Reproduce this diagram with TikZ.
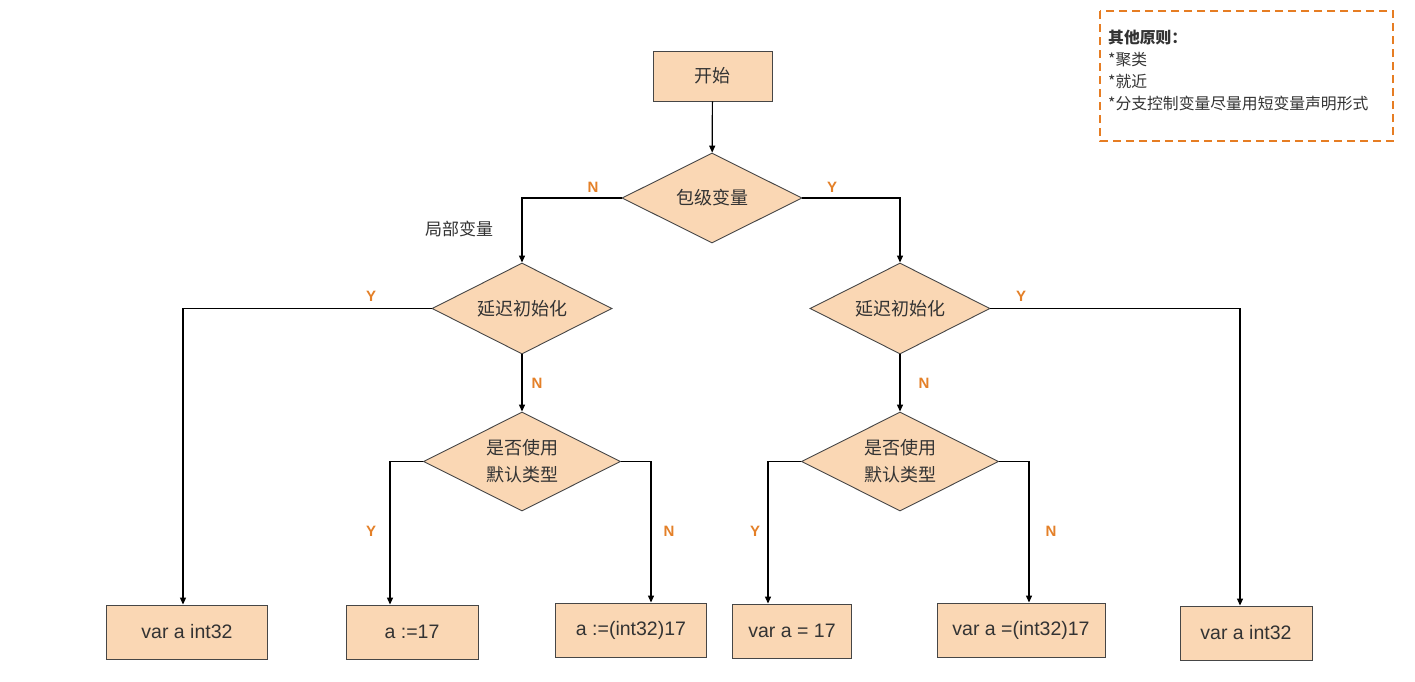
\documentclass[tikz,border=0pt]{standalone}
\usepackage{fontspec}
\setmainfont{Liberation Sans}
\newfontfamily\cjk{Noto Sans CJK SC}
\usetikzlibrary{shapes.geometric,arrows.meta}
\definecolor{peach}{RGB}{250,215,180}
\definecolor{lbl}{RGB}{228,128,40}
\definecolor{txt}{RGB}{51,51,51}
\definecolor{edge}{RGB}{70,70,70}
\definecolor{notec}{RGB}{230,125,35}
\begin{document}
\begin{tikzpicture}[x=1pt,y=-1pt,
  boxn/.style={draw=edge,line width=0.9pt,fill=peach,minimum height=54pt,inner sep=0pt,text=txt,font=\fontsize{19.5}{22}\selectfont},
  dia/.style={diamond,aspect=2,draw=edge,line width=0.9pt,fill=peach,inner sep=0pt,text=txt,align=center,font=\fontsize{18}{27}\selectfont\cjk},
  conn/.style={draw=black,line width=1.2pt,-{Triangle[length=7pt,width=6pt]}},
  yn/.style={text=lbl,font=\fontsize{15}{18}\selectfont\bfseries},
]
\useasboundingbox[fill=white] (0,0) rectangle (1415,681);

% start
\node[boxn,minimum width=119pt,minimum height=50pt,font=\fontsize{18}{20}\selectfont\cjk] (start) at (712.5,76) {开始};

% diamonds
\node[dia,minimum width=180pt,minimum height=90pt] (d0) at (712,198) {包级变量};
\node[dia,minimum width=180pt,minimum height=91pt] (d1) at (522,308.5) {延迟初始化};
\node[dia,minimum width=180pt,minimum height=91pt] (d2) at (900,308.5) {延迟初始化};
\node[dia,minimum width=197pt,minimum height=99pt] (d3) at (522,461.5) {是否使用\\默认类型};
\node[dia,minimum width=197pt,minimum height=99pt] (d4) at (900,461.5) {是否使用\\默认类型};

% bottom boxes
\node[boxn,minimum width=161pt] (b1) at (187,632) {var a int32};
\node[boxn,minimum width=132pt] (b2) at (412,632) {a :=17};
\node[boxn,minimum width=151pt] (b3) at (631,630) {a :=(int32)17};
\node[boxn,minimum width=119pt] (b4) at (792,631) {var a = 17};
\node[boxn,minimum width=168pt] (b5) at (1021,630) {var a =(int32)17};
\node[boxn,minimum width=132pt] (b6) at (1246,633) {var a int32};

% connectors
\draw[conn] (start) -- (d0);
\draw[conn] (d0.west) -| (d1.north);
\draw[conn] (d0.east) -| (d2.north);
\draw[conn] (d1.west) -| ([xshift=-4pt]b1.north);
\draw[conn] (d1.south) -- (d3.north);
\draw[conn] (d3.west) -| ([xshift=-22pt]b2.north);
\draw[conn] (d3.east) -| ([xshift=20pt]b3.north);
\draw[conn] (d2.east) -| ([xshift=-6pt]b6.north);
\draw[conn] (d2.south) -- (d4.north);
\draw[conn] (d4.west) -| ([xshift=-24pt]b4.north);
\draw[conn] (d4.east) -| ([xshift=8pt]b5.north);

% labels
\node[yn] (l1) at (593,187) {N};
\node[yn] (l2) at (832,187) {Y};
\node[yn] (l3) at (371,296) {Y};
\node[yn] (l4) at (537,383) {N};
\node[yn] (l5) at (371,531) {Y};
\node[yn] (l6) at (669,531) {N};
\node[yn] (l7) at (1021,296) {Y};
\node[yn] (l8) at (924,383) {N};
\node[yn] (l9) at (755,531) {Y};
\node[yn] (l10) at (1051,531) {N};
\node[text=txt,font=\fontsize{17}{19}\selectfont\cjk] (loc) at (459,229) {局部变量};

% note
\draw[notec,line width=2.6pt,dash pattern=on 8pt off 5pt] (1100,11) rectangle (1393,141);
\node[anchor=north west,align=left,inner sep=0pt,text=txt,font=\fontsize{15.8}{22}\selectfont\cjk] (note) at (1108,30)
  {\textbf{其他原则：}\\{}*聚类\\{}*就近\\{}*分支控制变量尽量用短变量声明形式};
\end{tikzpicture}
\end{document}
